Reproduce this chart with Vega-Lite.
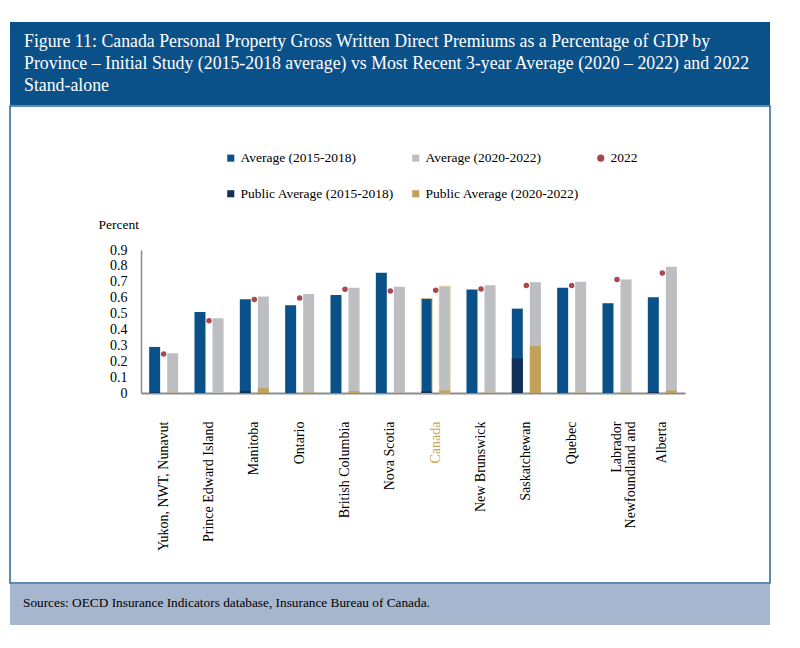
{
  "$schema": "https://vega.github.io/schema/vega-lite/v6.json",
  "background": "white",
  "padding": {"left": 9, "top": 22, "right": 0, "bottom": 0},
  "spacing": 0,
  "resolve": {"scale": {"color": "independent", "shape": "independent"}, "legend": {"color": "independent", "shape": "independent"}},
  "datasets": {
    "premiums": [
      {"province": "Yukon, NWT, Nunavut", "series": "Average (2015-2018)", "period": "2015-2018", "value": 0.29},
      {"province": "Yukon, NWT, Nunavut", "series": "Average (2020-2022)", "period": "2020-2022", "value": 0.25},
      {"province": "Yukon, NWT, Nunavut", "series": "2022", "period": "2022", "value": 0.245},
      {"province": "Yukon, NWT, Nunavut", "series": "Public Average (2015-2018)", "period": "2015-2018", "value": 0.003},
      {"province": "Yukon, NWT, Nunavut", "series": "Public Average (2020-2022)", "period": "2020-2022", "value": 0.003},
      {"province": "Prince Edward Island", "series": "Average (2015-2018)", "period": "2015-2018", "value": 0.51},
      {"province": "Prince Edward Island", "series": "Average (2020-2022)", "period": "2020-2022", "value": 0.47},
      {"province": "Prince Edward Island", "series": "2022", "period": "2022", "value": 0.455},
      {"province": "Prince Edward Island", "series": "Public Average (2015-2018)", "period": "2015-2018", "value": 0},
      {"province": "Prince Edward Island", "series": "Public Average (2020-2022)", "period": "2020-2022", "value": 0},
      {"province": "Manitoba", "series": "Average (2015-2018)", "period": "2015-2018", "value": 0.59},
      {"province": "Manitoba", "series": "Average (2020-2022)", "period": "2020-2022", "value": 0.607},
      {"province": "Manitoba", "series": "2022", "period": "2022", "value": 0.588},
      {"province": "Manitoba", "series": "Public Average (2015-2018)", "period": "2015-2018", "value": 0.013},
      {"province": "Manitoba", "series": "Public Average (2020-2022)", "period": "2020-2022", "value": 0.03},
      {"province": "Ontario", "series": "Average (2015-2018)", "period": "2015-2018", "value": 0.552},
      {"province": "Ontario", "series": "Average (2020-2022)", "period": "2020-2022", "value": 0.623},
      {"province": "Ontario", "series": "2022", "period": "2022", "value": 0.598},
      {"province": "Ontario", "series": "Public Average (2015-2018)", "period": "2015-2018", "value": 0},
      {"province": "Ontario", "series": "Public Average (2020-2022)", "period": "2020-2022", "value": 0.004},
      {"province": "British Columbia", "series": "Average (2015-2018)", "period": "2015-2018", "value": 0.617},
      {"province": "British Columbia", "series": "Average (2020-2022)", "period": "2020-2022", "value": 0.663},
      {"province": "British Columbia", "series": "2022", "period": "2022", "value": 0.653},
      {"province": "British Columbia", "series": "Public Average (2015-2018)", "period": "2015-2018", "value": 0},
      {"province": "British Columbia", "series": "Public Average (2020-2022)", "period": "2020-2022", "value": 0.011},
      {"province": "Nova Scotia", "series": "Average (2015-2018)", "period": "2015-2018", "value": 0.757},
      {"province": "Nova Scotia", "series": "Average (2020-2022)", "period": "2020-2022", "value": 0.669},
      {"province": "Nova Scotia", "series": "2022", "period": "2022", "value": 0.642},
      {"province": "Nova Scotia", "series": "Public Average (2015-2018)", "period": "2015-2018", "value": 0},
      {"province": "Nova Scotia", "series": "Public Average (2020-2022)", "period": "2020-2022", "value": 0.002},
      {"province": "Canada", "series": "Average (2015-2018)", "period": "2015-2018", "value": 0.596},
      {"province": "Canada", "series": "Average (2020-2022)", "period": "2020-2022", "value": 0.672},
      {"province": "Canada", "series": "2022", "period": "2022", "value": 0.646},
      {"province": "Canada", "series": "Public Average (2015-2018)", "period": "2015-2018", "value": 0.01},
      {"province": "Canada", "series": "Public Average (2020-2022)", "period": "2020-2022", "value": 0.015},
      {"province": "New Brunswick", "series": "Average (2015-2018)", "period": "2015-2018", "value": 0.651},
      {"province": "New Brunswick", "series": "Average (2020-2022)", "period": "2020-2022", "value": 0.678},
      {"province": "New Brunswick", "series": "2022", "period": "2022", "value": 0.655},
      {"province": "New Brunswick", "series": "Public Average (2015-2018)", "period": "2015-2018", "value": 0},
      {"province": "New Brunswick", "series": "Public Average (2020-2022)", "period": "2020-2022", "value": 0.003},
      {"province": "Saskatchewan", "series": "Average (2015-2018)", "period": "2015-2018", "value": 0.531},
      {"province": "Saskatchewan", "series": "Average (2020-2022)", "period": "2020-2022", "value": 0.697},
      {"province": "Saskatchewan", "series": "2022", "period": "2022", "value": 0.676},
      {"province": "Saskatchewan", "series": "Public Average (2015-2018)", "period": "2015-2018", "value": 0.218},
      {"province": "Saskatchewan", "series": "Public Average (2020-2022)", "period": "2020-2022", "value": 0.295},
      {"province": "Quebec", "series": "Average (2015-2018)", "period": "2015-2018", "value": 0.663},
      {"province": "Quebec", "series": "Average (2020-2022)", "period": "2020-2022", "value": 0.70},
      {"province": "Quebec", "series": "2022", "period": "2022", "value": 0.676},
      {"province": "Quebec", "series": "Public Average (2015-2018)", "period": "2015-2018", "value": 0},
      {"province": "Quebec", "series": "Public Average (2020-2022)", "period": "2020-2022", "value": 0.003},
      {"province": "Newfoundland and Labrador", "series": "Average (2015-2018)", "period": "2015-2018", "value": 0.565},
      {"province": "Newfoundland and Labrador", "series": "Average (2020-2022)", "period": "2020-2022", "value": 0.715},
      {"province": "Newfoundland and Labrador", "series": "2022", "period": "2022", "value": 0.715},
      {"province": "Newfoundland and Labrador", "series": "Public Average (2015-2018)", "period": "2015-2018", "value": 0},
      {"province": "Newfoundland and Labrador", "series": "Public Average (2020-2022)", "period": "2020-2022", "value": 0.003},
      {"province": "Alberta", "series": "Average (2015-2018)", "period": "2015-2018", "value": 0.603},
      {"province": "Alberta", "series": "Average (2020-2022)", "period": "2020-2022", "value": 0.795},
      {"province": "Alberta", "series": "2022", "period": "2022", "value": 0.755},
      {"province": "Alberta", "series": "Public Average (2015-2018)", "period": "2015-2018", "value": 0.006},
      {"province": "Alberta", "series": "Public Average (2020-2022)", "period": "2020-2022", "value": 0.015}
    ],
    "blank": [{"note": ""}]
  },
  "vconcat": [
    {
      "width": 760,
      "height": 83,
      "view": {"fill": "#0B5189", "stroke": null},
      "title": {
        "text": [
          "Figure 11: Canada Personal Property Gross Written Direct Premiums as a Percentage of GDP by",
          "Province – Initial Study (2015-2018 average) vs Most Recent 3-year Average (2020 – 2022) and 2022",
          "Stand-alone"
        ],
        "anchor": "start",
        "frame": "group",
        "orient": "top",
        "offset": -73,
        "dx": 14,
        "font": "Liberation Serif",
        "fontSize": 17.8,
        "fontWeight": "normal",
        "lineHeight": 22,
        "color": "white"
      },
      "data": {"name": "blank"},
      "mark": {"type": "text"},
      "encoding": {"text": {"field": "note"}}
    },
    {
      "width": 760,
      "height": 477,
      "view": {"fill": "white", "stroke": "#2B6598", "strokeWidth": 1.5},
      "data": {"name": "premiums"},
      "encoding": {
        "x": {
          "field": "province",
          "type": "nominal",
          "sort": null,
          "scale": {"range": [131, 675], "paddingInner": 0.36, "paddingOuter": 0.18},
          "axis": {
            "title": null,
            "offset": -190,
            "labelAngle": -90,
            "labelPadding": 28,
            "ticks": false,
            "domainColor": "#8C8C8C",
            "domainWidth": 2,
            "labelFont": "Liberation Serif",
            "labelFontSize": 14,
            "labelColor": {"condition": {"test": "datum.value == 'Canada'", "value": "#C9A45C"}, "value": "black"},
            "labelExpr": "datum.value == 'Newfoundland and Labrador' ? ['Labrador', 'Newfoundland and'] : datum.value",
            "labelLineHeight": 14
          }
        },
        "y": {
          "field": "value",
          "type": "quantitative",
          "scale": {"domain": [0, 0.9], "range": [287, 144]},
          "axis": {
            "title": "Percent",
            "offset": -131,
            "titleAngle": 0,
            "titleX": -43,
            "titleY": 118,
            "titleAlign": "left",
            "titleBaseline": "middle",
            "titleFont": "Liberation Serif",
            "titleFontSize": 13.5,
            "titleFontWeight": "normal",
            "titleColor": "black",
            "values": [0, 0.1, 0.2, 0.3, 0.4, 0.5, 0.6, 0.7, 0.8, 0.9],
            "format": ".1~f",
            "grid": false,
            "ticks": false,
            "labelPadding": 14,
            "labelFont": "Liberation Serif",
            "labelFontSize": 14,
            "labelColor": "black",
            "domainColor": "#8C8C8C",
            "domainWidth": 1.5
          }
        },
        "color": {
          "field": "series",
          "type": "nominal",
          "scale": {
            "domain": ["Average (2015-2018)", "Average (2020-2022)", "2022", "Public Average (2015-2018)", "Public Average (2020-2022)"],
            "range": ["#0B5189", "#BDBEC1", "#A8474E", "#13305A", "#C2A15A"]
          },
          "legend": {"title": null}
        },
        "shape": {
          "field": "series",
          "type": "nominal",
          "scale": {
            "domain": ["Average (2015-2018)", "Average (2020-2022)", "2022", "Public Average (2015-2018)", "Public Average (2020-2022)"],
            "range": ["square", "square", "circle", "square", "square"]
          },
          "legend": {"title": null}
        }
      },
      "layer": [
        {
          "transform": [{"filter": "datum.series == 'Average (2015-2018)' || datum.series == 'Average (2020-2022)'"}],
          "mark": {"type": "bar", "stroke": "#E3D09E"},
          "encoding": {
            "xOffset": {"field": "period", "type": "nominal", "scale": {"domain": ["2015-2018", "2020-2022"], "paddingInner": 0.39, "paddingOuter": 0}},
            "strokeWidth": {"condition": {"test": "datum.province == 'Canada'", "value": 1}, "value": 0}
          }
        },
        {
          "transform": [{"filter": "datum.series == 'Public Average (2015-2018)' || datum.series == 'Public Average (2020-2022)'"}],
          "mark": {"type": "bar"},
          "encoding": {
            "xOffset": {"field": "period", "type": "nominal"}
          }
        },
        {
          "transform": [{"filter": "datum.series == '2022'"}],
          "mark": {"type": "point", "filled": true, "opacity": 1, "size": 30}
        }
      ]
    },
    {
      "width": 760,
      "height": 41,
      "view": {"fill": "#A7B6CF", "stroke": null},
      "title": {
        "text": "Sources: OECD Insurance Indicators database, Insurance Bureau of Canada.",
        "anchor": "start",
        "frame": "group",
        "orient": "top",
        "offset": -25,
        "dx": 13,
        "font": "Liberation Serif",
        "fontSize": 13.3,
        "fontWeight": "normal",
        "color": "black"
      },
      "data": {"name": "blank"},
      "mark": {"type": "text"},
      "encoding": {"text": {"field": "note"}}
    }
  ],
  "config": {
    "font": "Liberation Serif",
    "view": {"stroke": null},
    "legend": {
      "orient": "none",
      "direction": "horizontal",
      "gridAlign": "each",
      "legendX": 214,
      "legendY": 45,
      "padding": 0,
      "columns": 3,
      "columnPadding": 15,
      "rowPadding": 21,
      "labelFont": "Liberation Serif",
      "labelFontSize": 13.5,
      "labelColor": "black",
      "labelOffset": 3,
      "symbolSize": 50,
      "symbolStrokeWidth": 0
    }
  }
}
